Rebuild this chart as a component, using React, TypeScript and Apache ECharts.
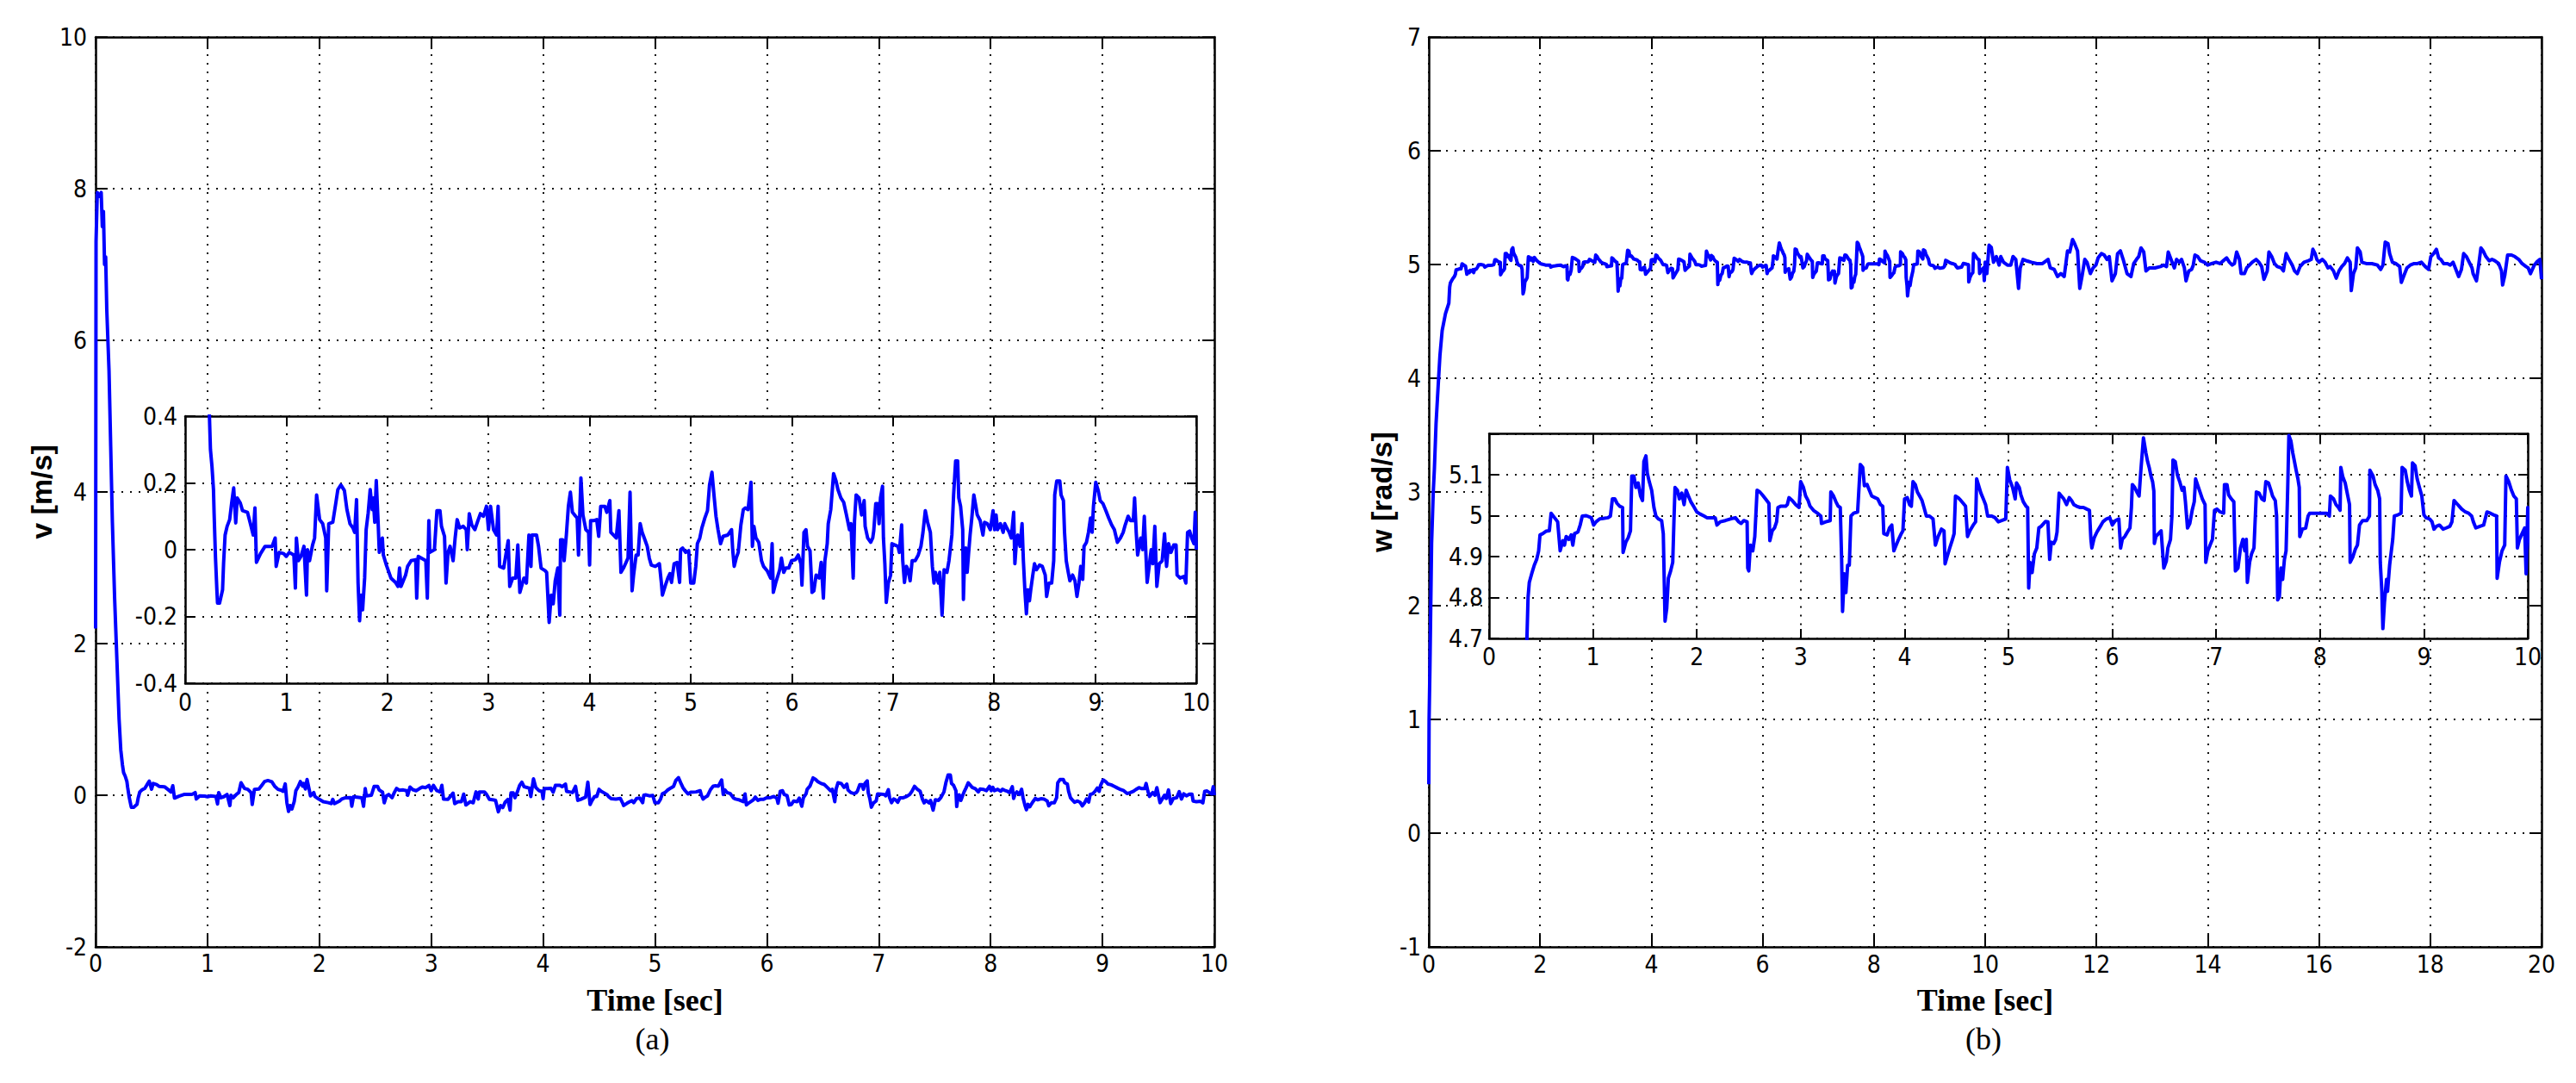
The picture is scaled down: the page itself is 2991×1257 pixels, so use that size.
import React, { useEffect, useRef } from "react";
import * as echarts from "echarts";

// ---------------- DATA ----------------
// (a) linear velocity v [m/s] versus time [sec]
const vTime = [
  0, 0.004, 0.015, 0.03, 0.05, 0.06, 0.07, 0.08, 0.09, 0.1, 0.12, 0.135, 0.15, 0.17, 0.19, 0.21, 0.225,
  0.24, 0.25, 0.265, 0.28, 0.286, 0.3, 0.315, 0.32, 0.34, 0.37, 0.38, 0.395, 0.415, 0.44, 0.46, 0.48, 0.5,
  0.515, 0.545, 0.567, 0.616, 0.645, 0.673, 0.69, 0.705, 0.745, 0.79, 0.86, 0.89, 0.9, 0.93, 0.975, 1.0,
  1.03, 1.075, 1.09, 1.1, 1.12, 1.145, 1.175, 1.2, 1.21, 1.23, 1.26, 1.28, 1.3, 1.33, 1.36, 1.39, 1.4,
  1.42, 1.46, 1.49, 1.51, 1.54, 1.575, 1.6, 1.63, 1.66, 1.676, 1.695, 1.71, 1.725, 1.74, 1.755, 1.775,
  1.79, 1.81, 1.83, 1.85, 1.86, 1.875, 1.89, 1.91, 1.92, 1.95, 1.96, 1.99, 2.035, 2.08, 2.105, 2.12,
  2.135, 2.18, 2.2, 2.235, 2.28, 2.29, 2.305, 2.38, 2.395, 2.41, 2.42, 2.465, 2.49, 2.52, 2.535, 2.565,
  2.58, 2.6, 2.62, 2.65, 2.67, 2.69, 2.715, 2.75, 2.78, 2.79, 2.81, 2.835, 2.865, 2.895, 2.92, 2.95,
  2.98, 3.0, 3.02, 3.05, 3.08, 3.095, 3.11, 3.15, 3.195, 3.21, 3.24, 3.27, 3.29, 3.31, 3.35, 3.375,
  3.4, 3.42, 3.43, 3.475, 3.495, 3.52, 3.56, 3.575, 3.6, 3.62, 3.64, 3.66, 3.685, 3.705, 3.713, 3.733,
  3.748, 3.77, 3.79, 3.81, 3.83, 3.862, 3.877, 3.89, 3.914, 3.934, 3.963, 3.99, 4.0, 4.01, 4.04, 4.07,
  4.09, 4.11, 4.15, 4.17, 4.2, 4.21, 4.235, 4.263, 4.29, 4.31, 4.335, 4.355, 4.38, 4.4, 4.42, 4.435,
  4.46, 4.48, 4.5, 4.52, 4.55, 4.57, 4.59, 4.61, 4.65, 4.69, 4.71, 4.72, 4.75, 4.774, 4.794, 4.81,
  4.836, 4.865, 4.89, 4.9, 4.92, 4.95, 4.98, 5.0, 5.03, 5.05, 5.066, 5.09, 5.11, 5.14, 5.166, 5.186,
  5.21, 5.23, 5.25, 5.27, 5.295, 5.32, 5.367, 5.404, 5.415, 5.43, 5.45, 5.47, 5.496, 5.52, 5.54, 5.567,
  5.596, 5.61, 5.625, 5.645, 5.673, 5.7, 5.72, 5.756, 5.79, 5.805, 5.817, 5.84, 5.86, 5.88, 5.897, 5.92,
  5.94, 5.97, 5.997, 6.035, 6.063, 6.09, 6.1, 6.12, 6.14, 6.155, 6.18, 6.2, 6.218, 6.24, 6.27, 6.29,
  6.312, 6.327, 6.35, 6.36, 6.385, 6.413, 6.436, 6.456, 6.485, 6.513, 6.54, 6.57, 6.585, 6.607, 6.62,
  6.636, 6.665, 6.69, 6.715, 6.725, 6.75, 6.78, 6.8, 6.81, 6.83, 6.85, 6.863, 6.877, 6.897, 6.906, 6.92,
  6.934, 6.954, 6.977, 6.99, 7.02, 7.05, 7.063, 7.086, 7.097, 7.114, 7.134, 7.15, 7.17, 7.19, 7.22, 7.25,
  7.277, 7.297, 7.32, 7.343, 7.37, 7.39, 7.406, 7.42, 7.45, 7.463, 7.486, 7.506, 7.534, 7.554, 7.583,
  7.6, 7.62, 7.64, 7.651, 7.669, 7.69, 7.697, 7.706, 7.72, 7.734, 7.749, 7.763, 7.78, 7.8, 7.82, 7.834,
  7.863, 7.89, 7.906, 7.934, 7.963, 7.99, 8.006, 8.02, 8.034, 8.063, 8.09, 8.106, 8.126, 8.15, 8.17,
  8.194, 8.206, 8.22, 8.234, 8.257, 8.277, 8.29, 8.306, 8.32, 8.334, 8.35, 8.363, 8.383, 8.4, 8.42, 8.45,
  8.477, 8.506, 8.52, 8.543, 8.57, 8.59, 8.6, 8.62, 8.65, 8.663, 8.686, 8.697, 8.714, 8.734, 8.75, 8.777,
  8.8, 8.82, 8.84, 8.857, 8.877, 8.89, 8.914, 8.934, 8.954, 8.97, 8.983, 9.006, 9.03, 9.05, 9.077, 9.106,
  9.134, 9.163, 9.19, 9.22, 9.25, 9.277, 9.297, 9.326, 9.35, 9.377, 9.39, 9.406, 9.42, 9.45, 9.469, 9.486,
  9.506, 9.514, 9.534, 9.554, 9.57, 9.59, 9.61, 9.634, 9.663, 9.686, 9.706, 9.726, 9.75, 9.777, 9.8,
  9.81, 9.84, 9.877, 9.897, 9.914, 9.934, 9.954, 9.977, 9.99, 10.0,
];
const vValue = [
  2.2, 7.3, 7.95, 7.9, 7.95, 7.5, 7.7, 7.0, 7.1, 6.4, 5.6, 4.6, 3.6, 2.6, 1.8, 1.0, 0.6,
  0.4, 0.3, 0.25, 0.18, 0.11, -0.025, -0.13, -0.16, -0.16, -0.12, -0.04, 0.044, 0.07, 0.09, 0.14, 0.185, 0.08,
  0.155, 0.14, 0.117, 0.112, 0.078, 0.044, 0.125, -0.038, -0.012, 0.01, 0.01, 0.035, -0.05, -0.008, -0.012, -0.02,
  -0.008, -0.016, -0.115, 0.035, -0.033, -0.02, 0.01, -0.136, 0.0, -0.033, 0.014, 0.035, 0.164, 0.09, 0.078, 0.035, -0.123,
  0.078, 0.082, 0.14, 0.18, 0.194, 0.177, 0.12, 0.078, 0.065, 0.052, 0.15, -0.1, -0.213, -0.136, -0.18, -0.085,
  0.06, 0.11, 0.18, 0.12, 0.155, 0.082, 0.207, 0.07, -0.008, 0.035, -0.016, -0.046, -0.085, -0.098, -0.11, -0.055,
  -0.11, -0.076, -0.05, -0.033, -0.03, -0.145, -0.02, -0.033, -0.145, 0.087, -0.008, 0.0, 0.117, 0.117, 0.07, 0.04,
  -0.1, -0.008, 0.01, -0.033, 0.035, 0.09, 0.065, 0.07, 0.06, 0.0, 0.108, 0.074, 0.06, 0.087, 0.108, 0.1,
  0.13, 0.06, 0.13, 0.06, 0.044, 0.13, -0.05, -0.055, 0.027, -0.11, -0.085, -0.085, 0.014, -0.128, -0.085, -0.1,
  0.044, -0.05, 0.044, 0.044, 0.01, -0.055, -0.063, -0.068, -0.218, -0.136, -0.162, -0.093, -0.055, -0.196, 0.03, 0.03,
  -0.033, 0.044, 0.13, 0.172, 0.112, 0.1, 0.095, -0.016, 0.215, 0.104, 0.06, 0.052, -0.046, 0.087, 0.087, 0.09,
  0.04, 0.13, 0.13, 0.112, 0.147, 0.052, 0.044, 0.035, 0.117, -0.068, -0.055, -0.042, -0.025, 0.172, -0.123, -0.076,
  -0.016, -0.016, 0.078, 0.052, 0.027, 0.01, -0.025, -0.046, -0.05, -0.042, -0.1, -0.136, -0.106, -0.085, -0.072, -0.098,
  -0.042, -0.038, -0.098, 0.0, 0.005, -0.008, -0.003, -0.1, -0.1, -0.05, 0.018, 0.035, 0.065, 0.095, 0.117, 0.194,
  0.232, 0.164, 0.1, 0.06, 0.018, 0.04, 0.044, 0.06, 0.0, -0.05, -0.025, -0.008, 0.074, 0.12, 0.125, 0.12,
  0.202, 0.01, 0.07, 0.035, 0.022, -0.033, -0.05, -0.063, -0.085, 0.018, -0.128, -0.1, -0.08, -0.06, -0.025, -0.068,
  -0.055, -0.055, -0.033, -0.03, -0.016, -0.042, -0.106, 0.052, 0.06, 0.01, -0.003, -0.128, -0.123, -0.076, -0.085, -0.038,
  -0.145, -0.033, 0.018, 0.078, 0.12, 0.228, 0.207, 0.18, 0.155, 0.142, 0.104, 0.06, 0.078, -0.085, 0.087,
  0.164, 0.155, 0.104, 0.147, 0.07, 0.035, 0.022, 0.035, 0.056, 0.138, 0.138, 0.078, 0.155, 0.19, 0.035, -0.042,
  -0.158, -0.1, -0.076, 0.018, 0.014, 0.01, -0.008, 0.074, -0.033, -0.098, -0.05, -0.06, -0.093, -0.033, -0.033, -0.016,
  0.01, 0.052, 0.117, 0.082, 0.052, -0.05, -0.1, -0.068, -0.1, -0.068, -0.196, -0.06, -0.068, -0.033, 0.044,
  0.164, 0.266, 0.266, 0.155, 0.13, 0.06, -0.149, -0.05, 0.005, -0.068, -0.008, 0.044, 0.095, 0.164, 0.13, 0.104,
  0.087, 0.044, 0.082, 0.078, 0.06, 0.117, 0.06, 0.104, 0.06, 0.078, 0.052, 0.078, 0.065, 0.052, 0.035,
  0.112, -0.042, 0.018, 0.044, 0.01, 0.078, -0.033, -0.128, -0.192, -0.12, -0.153, -0.12, -0.076, -0.042, -0.06, -0.046,
  -0.05, -0.076, -0.14, -0.1, -0.1, -0.033, 0.164, 0.206, 0.206, 0.164, 0.147, 0.052, -0.033, -0.068, -0.093, -0.076,
  -0.093, -0.14, -0.1, -0.05, -0.089, 0.01, 0.022, 0.052, 0.095, 0.052, 0.13, 0.202, 0.177, 0.147, 0.138, 0.117,
  0.095, 0.074, 0.06, 0.022, 0.035, 0.052, 0.074, 0.1, 0.087, 0.087, 0.155, 0.052, -0.016, 0.035, 0.0, 0.1,
  -0.042, -0.098, -0.05, 0.0, -0.042, 0.07, -0.11, -0.042, -0.033, 0.048, -0.05, 0.018, -0.008, 0.014, 0.014,
  -0.076, -0.085, -0.08, -0.1, 0.052, 0.056, 0.035, 0.018, 0.112, 0.0,
];

// (b) angular velocity w [rad/s] versus time [sec]
const wTime = [
  0, 0.005, 0.02, 0.05, 0.08, 0.1, 0.13, 0.17, 0.2, 0.24, 0.3, 0.36, 0.375, 0.387, 0.41, 0.435, 0.458,
  0.477, 0.49, 0.516, 0.548, 0.58, 0.597, 0.63, 0.66, 0.684, 0.71, 0.726, 0.742, 0.768, 0.79, 0.806, 0.823,
  0.855, 0.877, 0.897, 0.935, 0.984, 1.006, 1.03, 1.065, 1.097, 1.145, 1.168, 1.187, 1.21, 1.232, 1.258,
  1.285, 1.29, 1.316, 1.339, 1.361, 1.374, 1.394, 1.413, 1.435, 1.458, 1.477, 1.49, 1.51, 1.523, 1.542,
  1.565, 1.587, 1.606, 1.629, 1.661, 1.677, 1.694, 1.71, 1.726, 1.748, 1.768, 1.781, 1.79, 1.813, 1.832,
  1.855, 1.877, 1.897, 1.919, 1.942, 1.968, 2.0, 2.032, 2.071, 2.097, 2.135, 2.177, 2.194, 2.226, 2.274,
  2.323, 2.371, 2.403, 2.426, 2.452, 2.484, 2.49, 2.5, 2.516, 2.539, 2.558, 2.58, 2.606, 2.63, 2.661,
  2.694, 2.703, 2.726, 2.748, 2.768, 2.781, 2.806, 2.855, 2.871, 2.887, 2.919, 2.952, 2.984, 3.0, 3.026,
  3.048, 3.071, 3.09, 3.123, 3.161, 3.194, 3.2, 3.242, 3.284, 3.29, 3.316, 3.339, 3.361, 3.381, 3.394,
  3.403, 3.42, 3.435, 3.452, 3.468, 3.484, 3.51, 3.548, 3.574, 3.597, 3.613, 3.639, 3.661, 3.684, 3.716,
  3.742, 3.768, 3.79, 3.8, 3.832, 3.855, 3.877, 3.897, 3.919, 3.942, 3.968, 3.984, 4.0, 4.026, 4.048,
  4.065, 4.081, 4.103, 4.123, 4.145, 4.168, 4.187, 4.21, 4.24, 4.274, 4.297, 4.323, 4.355, 4.38, 4.39,
  4.41, 4.435, 4.458, 4.477, 4.49, 4.516, 4.542, 4.565, 4.587, 4.606, 4.629, 4.661, 4.684, 4.694, 4.71,
  4.735, 4.758, 4.78, 4.8, 4.84, 4.871, 4.903, 4.935, 4.974, 4.99, 5.013, 5.04, 5.065, 5.078, 5.104,
  5.12, 5.143, 5.17, 5.185, 5.195, 5.208, 5.228, 5.25, 5.273, 5.293, 5.315, 5.358, 5.38, 5.397, 5.413,
  5.436, 5.455, 5.468, 5.488, 5.51, 5.533, 5.56, 5.585, 5.608, 5.63, 5.657, 5.69, 5.722, 5.754, 5.78,
  5.794, 5.803, 5.826, 5.852, 5.885, 5.91, 5.943, 5.976, 6.0, 6.03, 6.063, 6.08, 6.096, 6.12, 6.145,
  6.17, 6.184, 6.193, 6.216, 6.236, 6.258, 6.275, 6.3, 6.323, 6.34, 6.355, 6.372, 6.388, 6.4, 6.405,
  6.42, 6.445, 6.47, 6.496, 6.52, 6.535, 6.56, 6.574, 6.584, 6.606, 6.626, 6.649, 6.672, 6.69, 6.704,
  6.724, 6.746, 6.769, 6.789, 6.802, 6.82, 6.844, 6.867, 6.893, 6.9, 6.92, 6.941, 6.964, 6.984, 7.006,
  7.039, 7.072, 7.08, 7.104, 7.12, 7.146, 7.17, 7.185, 7.21, 7.234, 7.257, 7.276, 7.29, 7.3, 7.322,
  7.341, 7.364, 7.387, 7.413, 7.44, 7.462, 7.478, 7.504, 7.527, 7.543, 7.569, 7.582, 7.592, 7.608, 7.624,
  7.64, 7.657, 7.673, 7.689, 7.7, 7.72, 7.737, 7.754, 7.77, 7.787, 7.8, 7.805, 7.83, 7.862, 7.885, 7.9,
  7.966, 8.015, 8.063, 8.09, 8.1, 8.13, 8.154, 8.177, 8.193, 8.2, 8.22, 8.242, 8.265, 8.284, 8.29,
  8.317, 8.34, 8.36, 8.38, 8.41, 8.45, 8.476, 8.48, 8.51, 8.53, 8.555, 8.574, 8.58, 8.595, 8.605, 8.62,
  8.64, 8.65, 8.67, 8.68, 8.7, 8.715, 8.75, 8.78, 8.79, 8.82, 8.84, 8.86, 8.88, 8.89, 8.915, 8.935,
  8.957, 8.98, 9.0, 9.02, 9.055, 9.078, 9.097, 9.12, 9.15, 9.185, 9.215, 9.25, 9.27, 9.29, 9.315, 9.34,
  9.364, 9.4, 9.43, 9.46, 9.476, 9.5, 9.54, 9.575, 9.607, 9.64, 9.67, 9.7, 9.705, 9.727, 9.752, 9.778,
  9.79, 9.817, 9.843, 9.866, 9.89, 9.9, 9.92, 9.945, 9.97, 9.984, 10.0,
  10.03, 10.07, 10.11, 10.15, 10.2, 10.25, 10.28, 10.33, 10.4, 10.46, 10.5, 10.55, 10.6, 10.63, 10.68,
  10.76, 10.83, 10.93, 11.03, 11.13, 11.17, 11.24, 11.3, 11.36, 11.42, 11.48, 11.52, 11.57, 11.61, 11.66,
  11.7, 11.74, 11.79, 11.83, 11.89, 11.94, 11.99, 12.03, 12.09, 12.14, 12.19, 12.23, 12.28, 12.34, 12.38,
  12.43, 12.48, 12.55, 12.62, 12.67, 12.72, 12.76, 12.8, 12.85, 12.89, 12.95, 13.05, 13.15, 13.21, 13.26,
  13.29, 13.34, 13.4, 13.44, 13.49, 13.53, 13.58, 13.61, 13.66, 13.71, 13.74, 13.77, 13.82, 13.87, 13.94,
  14.0, 14.07, 14.15, 14.22, 14.28, 14.34, 14.39, 14.44, 14.48, 14.52, 14.57, 14.6, 14.66, 14.7, 14.75,
  14.8, 14.87, 14.92, 14.97, 15.01, 15.07, 15.1, 15.15, 15.2, 15.25, 15.32, 15.36, 15.41, 15.46, 15.52,
  15.56, 15.61, 15.66, 15.73, 15.81, 15.86, 15.89, 15.93, 15.96, 16.0, 16.06, 16.11, 16.16, 16.2, 16.26,
  16.31, 16.36, 16.41, 16.46, 16.51, 16.56, 16.58, 16.62, 16.66, 16.69, 16.74, 16.77, 16.85, 16.95, 17.05,
  17.11, 17.15, 17.19, 17.24, 17.27, 17.32, 17.38, 17.45, 17.48, 17.53, 17.58, 17.64, 17.71, 17.77, 17.84,
  17.91, 17.97, 18.01, 18.06, 18.11, 18.15, 18.19, 18.24, 18.31, 18.36, 18.41, 18.45, 18.51, 18.56, 18.6,
  18.65, 18.7, 18.75, 18.77, 18.83, 18.87, 18.91, 18.95, 19.0, 19.06, 19.11, 19.16, 19.23, 19.28, 19.3,
  19.34, 19.39, 19.46, 19.52, 19.59, 19.65, 19.72, 19.76, 19.8, 19.87, 19.91, 19.97, 20.0,
];
const wValue = [
  0.43, 1.0, 1.45, 2.55, 3.0, 3.2, 3.6, 3.95, 4.2, 4.42, 4.57, 4.66, 4.8, 4.837, 4.858, 4.879, 4.893,
  4.914, 4.953, 4.956, 4.962, 4.963, 5.006, 4.995, 4.985, 4.914, 4.939, 4.928, 4.949, 4.942, 4.953, 4.928, 4.956,
  4.96, 4.977, 4.999, 5.0, 4.995, 4.977, 4.985, 4.992, 4.993, 4.995, 4.999, 5.041, 5.041, 5.03, 5.023,
  5.02, 4.91, 4.935, 4.946, 4.963, 5.097, 5.097, 5.069, 5.08, 5.048, 5.037, 5.132, 5.146, 5.104, 5.083,
  5.062, 5.02, 4.999, 4.992, 4.988, 4.956, 4.742, 4.773, 4.847, 4.865, 4.886, 4.999, 5.069, 5.062, 5.041,
  5.055, 5.027, 5.062, 5.048, 5.034, 5.023, 5.009, 5.004, 4.999, 4.995, 4.995, 4.995, 4.977, 4.985, 4.988,
  4.992, 4.995, 4.985, 4.981, 4.988, 4.985, 4.872, 4.865, 4.928, 4.914, 4.949, 5.062, 5.058, 5.051, 5.041,
  5.03, 4.939, 4.963, 4.97, 4.985, 5.02, 5.023, 5.023, 5.027, 5.044, 5.037, 5.027, 5.02, 5.083, 5.069,
  5.048, 5.037, 5.023, 5.013, 5.006, 4.999, 4.981, 4.985, 4.988, 5.058, 5.048, 5.034, 5.023, 5.02, 4.893,
  4.766, 4.858, 4.812, 4.879, 4.879, 4.999, 5.006, 5.009, 5.125, 5.118, 5.073, 5.076, 5.062, 5.048, 5.044,
  5.041, 5.027, 5.023, 4.956, 4.953, 4.97, 4.977, 4.914, 4.928, 4.942, 4.956, 4.963, 5.041, 5.044, 5.027,
  5.023, 5.083, 5.076, 5.058, 5.048, 5.037, 5.02, 4.999, 4.999, 4.992, 4.928, 4.949, 4.967, 4.963, 4.882,
  4.9, 4.921, 4.939, 4.956, 5.048, 5.044, 5.037, 5.03, 5.023, 4.949, 4.963, 4.977, 4.985, 5.09, 5.076,
  5.055, 5.041, 5.027, 4.999, 4.999, 4.995, 4.985, 4.988, 4.992, 5.118, 5.087, 5.069, 5.041, 5.08, 5.069,
  5.051, 5.034, 5.023, 5.02, 4.823, 4.886, 4.861, 4.907, 4.921, 4.97, 4.974, 4.986, 4.985, 4.893, 4.935,
  4.932, 4.942, 4.96, 5.055, 5.048, 5.041, 5.027, 5.044, 5.037, 5.027, 5.023, 5.02, 5.02, 5.016, 5.013,
  4.942, 4.921, 4.946, 4.96, 4.974, 4.985, 4.992, 4.995, 4.977, 4.988, 4.992, 4.921, 4.942, 4.949, 4.96,
  4.97, 5.02, 5.076, 5.069, 5.058, 5.048, 5.111, 5.19, 5.154, 5.132, 5.118, 5.097, 5.083, 5.06, 4.932,
  4.949, 4.956, 4.963, 4.872, 4.889, 4.921, 4.942, 4.999, 5.136, 5.132, 5.1, 5.083, 5.062, 5.069, 5.034,
  4.97, 4.981, 5.013, 5.034, 5.09, 5.076, 5.058, 5.041, 5.027, 4.886, 4.914, 4.928, 4.942, 5.013, 5.016,
  5.009, 5.006, 5.076, 5.076, 5.051, 5.041, 5.034, 4.865, 4.872, 4.921, 4.942, 4.914, 4.942, 4.837, 4.886,
  4.907, 4.921, 5.058, 5.055, 5.041, 5.037, 5.083, 5.08, 5.062, 5.048, 5.037, 4.999, 4.794, 4.801, 4.872,
  4.844, 4.893, 4.914, 5.069, 5.196, 5.182, 5.154, 5.132, 5.111, 5.09, 5.069, 4.949, 4.967, 4.97, 4.999, 5.006,
  5.006, 5.006, 5.006, 4.999, 5.048, 5.041, 5.027, 5.02, 5.013, 5.118, 5.094, 5.08, 5.051, 5.027, 4.886,
  4.9, 4.918, 4.928, 4.977, 4.988, 4.988, 4.999, 5.111, 5.097, 5.076, 5.062, 5.041, 4.886, 4.815, 4.724, 4.787,
  4.844, 4.815, 4.879, 4.9, 4.942, 4.999, 5.002, 5.006, 5.118, 5.111, 5.083, 5.062, 5.048, 5.129, 5.122, 5.09,
  5.069, 5.048, 5.002, 4.995, 4.992, 4.985, 4.967, 4.974, 4.977, 4.967, 4.97, 4.974, 4.985, 5.037, 5.03, 5.023,
  5.016, 5.009, 5.006, 4.999, 4.985, 4.97, 4.974, 4.977, 5.009, 5.006, 5.002, 4.999, 4.847, 4.886, 4.914, 4.928,
  5.097, 5.083, 5.062, 5.048, 5.041, 4.921, 4.942, 4.956, 4.97, 4.858, 5.02,
  4.92, 5.17, 5.15, 5.02, 5.07, 4.995, 5.07, 5.02, 4.995, 4.995, 5.07, 5.045, 4.79, 4.97, 5.045,
  5.03, 5.02, 5.008, 5.008, 5.045, 4.97, 4.957, 4.894, 4.92, 4.894, 5.12, 5.11, 5.22, 5.18, 5.12,
  4.79, 4.894, 5.045, 5.02, 4.92, 4.97, 4.995, 5.058, 5.096, 5.083, 5.045, 5.07, 4.856, 4.92, 5.096,
  5.12, 5.045, 4.92, 4.894, 5.008, 5.045, 5.07, 5.146, 5.11, 4.944, 4.97, 4.97, 4.982, 4.995, 4.982,
  5.11, 5.045, 4.97, 5.045, 5.02, 5.045, 4.97, 4.856, 4.944, 4.957, 4.995, 5.083, 5.07, 5.033, 5.02,
  4.995, 5.008, 5.02, 5.008, 5.033, 5.058, 5.02, 4.995, 5.008, 5.11, 5.045, 4.92, 4.92, 4.97, 4.995,
  5.02, 5.045, 5.02, 4.982, 4.87, 4.944, 5.11, 5.07, 5.008, 4.982, 4.97, 4.944, 5.096, 5.045, 4.995,
  4.944, 4.92, 4.982, 5.02, 5.033, 5.045, 5.134, 5.096, 5.045, 5.02, 5.045, 5.02, 4.97, 4.982, 4.944,
  4.88, 4.944, 4.982, 5.008, 5.058, 5.02, 4.77, 4.92, 4.97, 5.146, 5.11, 5.02, 5.008, 5.008, 4.995,
  4.957, 4.995, 5.197, 5.184, 5.096, 5.02, 5.008, 4.982, 4.843, 4.907, 4.97, 4.995, 5.008, 5.008, 5.02,
  4.982, 4.957, 5.07, 5.096, 5.134, 5.058, 5.045, 5.008, 5.008, 4.995, 5.02, 4.97, 4.894, 4.957, 5.096,
  5.07, 5.02, 4.97, 4.92, 4.856, 4.995, 5.146, 5.12, 5.07, 5.033, 5.045, 5.033, 5.008, 4.944, 4.82,
  4.907, 5.083, 5.083, 5.07, 5.045, 5.008, 4.982, 4.97, 4.92, 4.995, 5.02, 5.045, 4.87,
];

// axis ranges / tick steps
const vMainX = { min: 0, max: 10, step: 1 };
const vMainY = { min: -2, max: 10, step: 2 };
const vZoomX = { min: 0, max: 10, step: 1 };
const vZoomY = { min: -0.4, max: 0.4, step: 0.2 };
const wMainX = { min: 0, max: 20, step: 2 };
const wMainY = { min: -1, max: 7, step: 1 };
const wZoomX = { min: 0, max: 10, step: 1 };
const wZoomY = { min: 4.7, max: 5.2, step: 0.1 };

const xTitle = "Time [sec]";
const vTitle = "v [m/s]";
const wTitle = "w [rad/s]";
const panelA = "(a)";
const panelB = "(b)";

// ---------------- LAYOUT ----------------
const W = 2991;
const H = 1257;
const G_LM = { left: 111, top: 43, width: 1299, height: 1056 };
const G_LI = { left: 215, top: 483, width: 1174, height: 310 };
const G_RM = { left: 1659, top: 43, width: 1292, height: 1056 };
const G_RI = { left: 1729, top: 503.5, width: 1206, height: 237.5 };

const TICK_FONT = "'Liberation Sans Narrow', 'Arial Narrow', 'DejaVu Sans Condensed', 'Liberation Sans', Arial, sans-serif";
const SERIF = "'Liberation Serif', 'Times New Roman', serif";
const SANS = "'Liberation Sans', Arial, sans-serif";
const BLUE = "#0000ff";

function fmt(v: number) {
  const r = Math.round(v * 1000) / 1000;
  return String(r);
}

function axesFor(
  gi: number,
  xr: { min: number; max: number; step: number },
  yr: { min: number; max: number; step: number },
  o: { z: number; tick: number; xm: number; ym: number; xName?: string; yName?: string; yGap?: number; yFmt?: (v: number) => string }
) {
  const line = { show: true, onZero: false, lineStyle: { color: "#000", width: 2.5 } };
  const tick = { show: true, inside: true, length: o.tick, lineStyle: { color: "#000", width: 2 } };
  const split = { show: true, lineStyle: { color: "#111", width: 2, type: [2, 8] as any } };
  const label = (m: number, f?: (v: number) => string) => ({
    show: true,
    color: "#000",
    fontSize: 28,
    fontFamily: TICK_FONT,
    margin: m,
    showMinLabel: true,
    showMaxLabel: true,
    formatter: f || fmt,
  });
  const xs = [
    {
      type: "value", gridIndex: gi, position: "bottom", z: o.z,
      min: xr.min, max: xr.max, interval: xr.step,
      axisLine: line, axisTick: tick, splitLine: split, axisLabel: label(o.xm),
      name: o.xName || "", nameLocation: "middle", nameGap: 44,
      nameTextStyle: { fontSize: 36, fontWeight: "bold", fontFamily: SERIF, color: "#000" },
    },
    {
      type: "value", gridIndex: gi, position: "top", z: o.z,
      min: xr.min, max: xr.max, interval: xr.step,
      axisLine: line, axisTick: tick, splitLine: { show: false }, axisLabel: { show: false },
    },
  ];
  const ys = [
    {
      type: "value", gridIndex: gi, position: "left", z: o.z,
      min: yr.min, max: yr.max, interval: yr.step,
      axisLine: line, axisTick: tick, splitLine: split, axisLabel: label(o.ym, o.yFmt),
      name: o.yName || "", nameLocation: "middle", nameGap: o.yGap || 44, nameRotate: 90,
      nameTextStyle: { fontSize: 34, fontWeight: "bold", fontFamily: SANS, color: "#000" },
    },
    {
      type: "value", gridIndex: gi, position: "right", z: o.z,
      min: yr.min, max: yr.max, interval: yr.step,
      axisLine: line, axisTick: tick, splitLine: { show: false }, axisLabel: { show: false },
    },
  ];
  return { xs, ys };
}

export default function App() {
  const ref = useRef<HTMLDivElement>(null);

  useEffect(() => {
    if (!ref.current) return;
    const chart = echarts.init(ref.current, undefined, { renderer: "svg", width: W, height: H });

    const vData = vTime.map((t, i) => [t, vValue[i]]);
    const wData = wTime.map((t, i) => [t, wValue[i]]);

    const a0 = axesFor(0, vMainX, vMainY, { z: 0, tick: 14, xm: 5, ym: 10, xName: xTitle, yName: vTitle, yGap: 44 });
    const a1 = axesFor(1, vZoomX, vZoomY, { z: 11, tick: 11, xm: 8, ym: 9 });
    const a2 = axesFor(2, wMainX, wMainY, { z: 0, tick: 14, xm: 6, ym: 9, xName: xTitle, yName: wTitle, yGap: 38 });
    const a3 = axesFor(3, wZoomX, wZoomY, {
      z: 11, tick: 11, xm: 7, ym: 7,
      yFmt: (v: number) => (v > 5.15 ? "" : fmt(v)),
    });

    const seriesLine = (xi: number, data: number[][], z: number) => ({
      type: "line",
      xAxisIndex: xi,
      yAxisIndex: xi,
      data,
      showSymbol: false,
      symbol: "none",
      clip: true,
      z,
      lineStyle: { color: BLUE, width: 4, join: "round" },
      emphasis: { disabled: true },
    });

    const option: any = {
      animation: false,
      backgroundColor: "#fff",
      grid: [
        { ...G_LM, show: false, containLabel: false },
        { ...G_LI, show: true, backgroundColor: "#fff", borderWidth: 0, z: 10, containLabel: false },
        { ...G_RM, show: false, containLabel: false },
        { ...G_RI, show: true, backgroundColor: "#fff", borderWidth: 0, z: 10, containLabel: false },
      ],
      xAxis: [...a0.xs, ...a1.xs, ...a2.xs, ...a3.xs],
      yAxis: [...a0.ys, ...a1.ys, ...a2.ys, ...a3.ys],
      series: [
        seriesLine(0, vData, 2),
        seriesLine(2, vData, 12),
        seriesLine(4, wData, 2),
        seriesLine(6, wData, 12),
      ],
      graphic: [
        {
          type: "text",
          x: G_LM.left + G_LM.width / 2 - 3,
          y: 1206,
          style: {
            text: panelA, font: `36px ${SERIF}`, fill: "#000",
            textAlign: "center", textVerticalAlign: "middle", align: "center", verticalAlign: "middle",
          },
        },
        {
          type: "text",
          x: G_RM.left + G_RM.width / 2 - 2,
          y: 1206,
          style: {
            text: panelB, font: `36px ${SERIF}`, fill: "#000",
            textAlign: "center", textVerticalAlign: "middle", align: "center", verticalAlign: "middle",
          },
        },
      ],
    };

    chart.setOption(option);
    return () => chart.dispose();
  }, []);

  return (
    <div
      ref={ref}
      style={{ position: "fixed", left: 0, top: 0, width: W, height: H, background: "#fff" }}
    />
  );
}
